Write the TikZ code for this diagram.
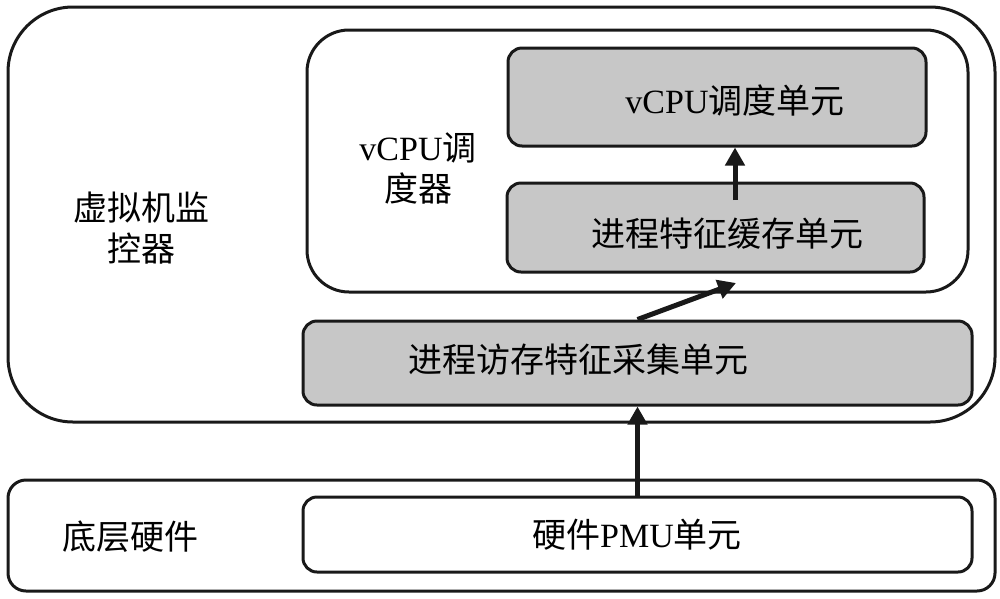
\documentclass[tikz,border=0pt]{standalone}
\usepackage{fontspec}
\setmainfont{Liberation Serif}
\newfontfamily\cjk{Noto Sans CJK SC}
\usetikzlibrary{arrows.meta}
\begin{document}
\begin{tikzpicture}[x=1pt,y=-1pt,
  frame/.style={draw=black!90,line width=3pt,inner sep=0pt},
  unitbox/.style={frame,fill=black!22,rounded corners=14pt},
  plainbox/.style={frame,fill=white,rounded corners=14pt},
  lbl/.style={font=\fontsize{34}{41}\selectfont,align=center,inner sep=0pt,text=black},
  arr/.style={line width=5pt,draw=black!90,-{Triangle[length=18pt,width=19pt]}}]
\useasboundingbox (0,0) rectangle (1000,598);
% outer boxes
\node[frame,rounded corners=65pt,minimum width=987pt,minimum height=415pt] (vmm) at (501.5,214.5) {};
\node[frame,rounded corners=18pt,minimum width=987pt,minimum height=111pt] (hw) at (501.5,535.5) {};
\node[frame,rounded corners=42pt,minimum width=661pt,minimum height=262pt] (sched) at (637.5,161) {};
% units
\node[unitbox,minimum width=418pt,minimum height=98pt] (vcpu) at (717,97) {};
\node[unitbox,minimum width=417pt,minimum height=89pt] (cache) at (715.5,227.5) {};
\node[unitbox,minimum width=669pt,minimum height=84pt] (coll) at (637.5,363) {};
\node[plainbox,minimum width=669pt,minimum height=75pt] (pmu) at (637.5,534.5) {};
% texts
\node[lbl] (vmmtxt) at (141,228) {{\cjk 虚拟机监}\\{\cjk 控器}};
\node[lbl] (schedtxt) at (418,168) {vCPU{\cjk 调}\\{\cjk 度器}};
\node[lbl] (hwtxt) at (130,537) {\cjk 底层硬件};
\node[lbl] (vcputxt) at (735,100) {vCPU{\cjk 调度单元}};
\node[lbl] (cachetxt) at (727,234) {\cjk 进程特征缓存单元};
\node[lbl] (colltxt) at (578,360) {\cjk 进程访存特征采集单元};
\node[lbl] (pmutxt) at (637,535) {{\cjk 硬件}PMU{\cjk 单元}};
% arrows
\coordinate (diagtip) at (736,283);
\coordinate (cachein) at (735,200);
\draw[arr] (pmu.north) -- (coll.south);
\draw[arr] (coll.north) -- (diagtip);
\draw[arr] (cachein) -- (vcpu.south -| cachein);
\end{tikzpicture}
\end{document}
